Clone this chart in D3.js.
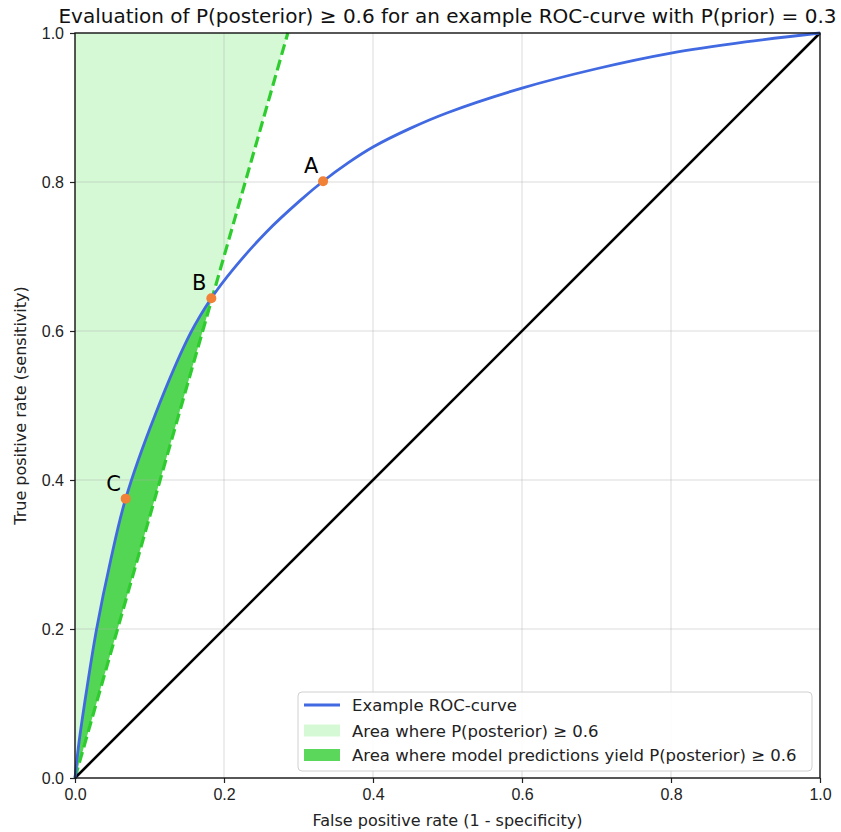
<!DOCTYPE html>
<html>
<head>
<meta charset="utf-8">
<script src="https://cdn.jsdelivr.net/npm/d3@7"></script>
<style>
  body { margin: 0; background: #fff; }
  svg { font-family: "DejaVu Sans", sans-serif; }
</style>
</head>
<body>
<div id="chart"></div>
<script>
// ROC curve
const rocFpr = [0, 0.005, 0.015, 0.029, 0.048, 0.068, 0.107, 0.155, 0.183, 0.2125, 0.257, 0.302, 0.333, 0.367, 0.4, 0.45, 0.5, 0.6, 0.7, 0.8, 0.9, 1];
const rocTpr = [0, 0.045, 0.114, 0.2, 0.293, 0.375, 0.486, 0.597, 0.644, 0.683, 0.733, 0.775, 0.801, 0.826, 0.847, 0.872, 0.893, 0.926, 0.952, 0.973, 0.988, 1];

// threshold line where P(posterior) = 0.6 (dashed green)
const thresholdFpr = [0, 0.2857];
const thresholdTpr = [0, 1];

// chance diagonal
const diagFpr = [0, 1];
const diagTpr = [0, 1];

// marked points
const pointLabels = ['A', 'B', 'C'];
const pointFpr = [0.333, 0.183, 0.068];
const pointTpr = [0.801, 0.644, 0.375];

const ticks = [0, 0.2, 0.4, 0.6, 0.8, 1.0];
const legendLabels = ['Example ROC-curve', 'Area where P(posterior) \u2265 0.6', 'Area where model predictions yield P(posterior) \u2265 0.6'];

const width = 841;
const height = 832;
const margin = { top: 33, right: 21, bottom: 54, left: 75 };
const usableArea = {
    top: margin.top,
    right: width - margin.right,
    bottom: height - margin.bottom,
    left: margin.left,
};

const xScale = d3.scaleLinear().domain([0, 1]).range([usableArea.left, usableArea.right]);
const yScale = d3.scaleLinear().domain([0, 1]).range([usableArea.bottom, usableArea.top]);

const svg = d3.select('#chart')
    .append('svg')
    .attr('width', width)
    .attr('height', height);

const rocData = rocFpr.map((x, i) => ({ x: x, y: rocTpr[i] }));
const slope = (thresholdTpr[1] - thresholdTpr[0]) / (thresholdFpr[1] - thresholdFpr[0]);
const lineAt = x => thresholdTpr[0] + slope * (x - thresholdFpr[0]);
const smooth = d3.curveCatmullRom.alpha(0.5);

// index of point B on the ROC curve
const bIndex = rocFpr.indexOf(pointFpr[1]);
const xB = pointFpr[1];

// Light green region above the threshold line (two pieces, split at B)
const lightColor = '#90ee90';
const leftPoly = [[0, lineAt(0)], [0, 1], [xB, 1], [xB, lineAt(xB)]];
const rightPoly = [[xB, lineAt(xB)], [xB, 1], [thresholdFpr[1], 1]];
[leftPoly, rightPoly].forEach(poly => {
    svg.append('path')
        .attr('d', 'M' + poly.map(p => [xScale(p[0]), yScale(p[1])].join(',')).join('L') + 'Z')
        .attr('fill', lightColor)
        .attr('fill-opacity', 0.38);
});

// Dark green region between ROC curve and threshold line, up to B
const darkArea = d3.area()
    .x(d => xScale(d.x))
    .y0(d => yScale(lineAt(d.x)))
    .y1(d => yScale(d.y))
    .curve(smooth);
svg.append('path')
    .datum(rocData.slice(0, bIndex + 1))
    .attr('fill', '#32cd32')
    .attr('fill-opacity', 0.8)
    .attr('d', darkArea);

// gridlines
const grid = svg.append('g').attr('class', 'gridlines');
grid.selectAll('.gx').data(ticks.slice(1, -1)).join('line')
    .attr('x1', d => xScale(d)).attr('x2', d => xScale(d))
    .attr('y1', usableArea.top).attr('y2', usableArea.bottom)
    .attr('stroke', '#b0b0b0').attr('stroke-opacity', 0.45).attr('stroke-width', 1);
grid.selectAll('.gy').data(ticks.slice(1, -1)).join('line')
    .attr('y1', d => yScale(d)).attr('y2', d => yScale(d))
    .attr('x1', usableArea.left).attr('x2', usableArea.right)
    .attr('stroke', '#b0b0b0').attr('stroke-opacity', 0.45).attr('stroke-width', 1);

// threshold dashed line
svg.append('line')
    .attr('x1', xScale(thresholdFpr[0])).attr('y1', yScale(thresholdTpr[0]))
    .attr('x2', xScale(thresholdFpr[1])).attr('y2', yScale(thresholdTpr[1]))
    .attr('stroke', '#2ecc2e')
    .attr('stroke-width', 3.2)
    .attr('stroke-dasharray', '11,5');

// diagonal
svg.append('line')
    .attr('x1', xScale(diagFpr[0])).attr('y1', yScale(diagTpr[0]))
    .attr('x2', xScale(diagFpr[1])).attr('y2', yScale(diagTpr[1]))
    .attr('stroke', 'black')
    .attr('stroke-width', 2.6);

// ROC curve
const rocLine = d3.line().x(d => xScale(d.x)).y(d => yScale(d.y)).curve(smooth);
svg.append('path')
    .datum(rocData)
    .attr('fill', 'none')
    .attr('stroke', '#4169e1')
    .attr('stroke-width', 2.8)
    .attr('d', rocLine);

// marked points + labels
svg.selectAll('.pt').data(pointLabels).join('circle')
    .attr('cx', (d, i) => xScale(pointFpr[i]))
    .attr('cy', (d, i) => yScale(pointTpr[i]))
    .attr('r', 5)
    .attr('fill', '#f08136');
svg.selectAll('.ptlabel').data(pointLabels).join('text')
    .attr('x', (d, i) => xScale(pointFpr[i]) - 12)
    .attr('y', (d, i) => yScale(pointTpr[i]) - 8)
    .attr('text-anchor', 'middle')
    .style('font-size', '21px')
    .text(d => d);

// axes
const xAxis = d3.axisBottom(xScale).tickValues(ticks).tickFormat(d3.format('.1f')).tickSize(5).tickPadding(6);
const yAxis = d3.axisLeft(yScale).tickValues(ticks).tickFormat(d3.format('.1f')).tickSize(5).tickPadding(6);

const gx = svg.append('g').attr('transform', `translate(0, ${usableArea.bottom})`).call(xAxis);
const gy = svg.append('g').attr('transform', `translate(${usableArea.left}, 0)`).call(yAxis);
[gx, gy].forEach(g => {
    g.select('.domain').remove();
    g.selectAll('.tick line').attr('stroke', '#222').attr('stroke-width', 1.2);
    g.selectAll('.tick text').style('font-size', '16px').attr('fill', '#222');
});

// frame
svg.append('rect')
    .attr('x', usableArea.left).attr('y', usableArea.top)
    .attr('width', usableArea.right - usableArea.left)
    .attr('height', usableArea.bottom - usableArea.top)
    .attr('fill', 'none')
    .attr('stroke', '#111')
    .attr('stroke-width', 1.4);

// title and axis labels
svg.append('text')
    .attr('x', (usableArea.left + usableArea.right) / 2)
    .attr('y', 23)
    .attr('text-anchor', 'middle')
    .style('font-size', '20px')
    .attr('fill', '#111')
    .text('Evaluation of P(posterior) \u2265 0.6 for an example ROC-curve with P(prior) = 0.3');

svg.append('text')
    .attr('x', (usableArea.left + usableArea.right) / 2)
    .attr('y', 826)
    .attr('text-anchor', 'middle')
    .style('font-size', '16px')
    .attr('fill', '#222')
    .text('False positive rate (1 - specificity)');

svg.append('text')
    .attr('transform', `translate(26, ${(usableArea.top + usableArea.bottom) / 2}) rotate(-90)`)
    .attr('text-anchor', 'middle')
    .style('font-size', '16px')
    .attr('fill', '#222')
    .text('True positive rate (sensitivity)');

// legend
const legend = svg.append('g').attr('transform', 'translate(298, 692)');
legend.append('rect')
    .attr('width', 514).attr('height', 79)
    .attr('rx', 4)
    .attr('fill', 'white').attr('fill-opacity', 0.85)
    .attr('stroke', '#d0d0d0');
const rowY = [13, 38.5, 63];
legend.append('line')
    .attr('x1', 6).attr('x2', 42).attr('y1', rowY[0]).attr('y2', rowY[0])
    .attr('stroke', '#4169e1').attr('stroke-width', 2.8);
legend.append('rect')
    .attr('x', 6).attr('y', rowY[1] - 6).attr('width', 36).attr('height', 12)
    .attr('fill', lightColor).attr('fill-opacity', 0.38);
legend.append('rect')
    .attr('x', 6).attr('y', rowY[2] - 6).attr('width', 36).attr('height', 12)
    .attr('fill', '#32cd32').attr('fill-opacity', 0.8);
legend.selectAll('.lt').data(legendLabels).join('text')
    .attr('x', 54)
    .attr('y', (d, i) => rowY[i] + 6)
    .style('font-size', '16.5px')
    .attr('fill', '#222')
    .text(d => d);
</script>
</body>
</html>
